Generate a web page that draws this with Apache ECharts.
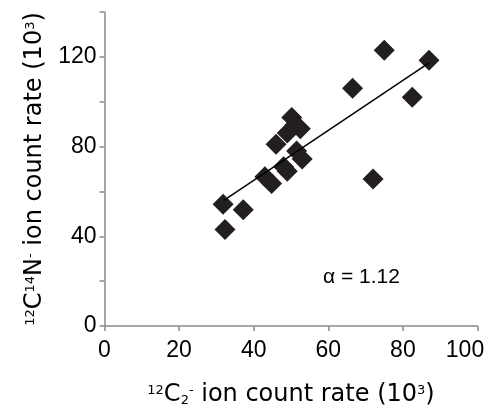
<!DOCTYPE html>
<html>
<head>
<meta charset="utf-8">
<script src="https://cdn.jsdelivr.net/npm/echarts@6/dist/echarts.min.js"></script>
<style>html,body{margin:0;padding:0;background:#fff;}#c{width:494px;height:420px;}</style>
</head>
<body>
<div id="c"></div>
<script>
// Data
var c2Rate = [75, 87, 66.5, 82.5, 50.2, 52.5, 49, 51, 46, 51.5, 53, 49, 48, 43, 44.8, 72, 31.8, 37.2, 32.3];
var cnRate = [123, 118.5, 106, 102, 93, 88, 86, 89.5, 81, 78, 74.5, 69, 71, 66.5, 63.5, 65.5, 54.3, 51.8, 43];
var trendX = [32, 87];
var trendY = [56, 117.3];
var xTicks = [0, 20, 40, 60, 80, 100];
var yTicks = [0, 40, 80, 120];
var alphaLabel = 'α = 1.12';

var points = c2Rate.map(function (x, i) { return [x, cnRate[i]]; });
var trend = trendX.map(function (x, i) { return [x, trendY[i]]; });

var TICKFONT = '"Liberation Sans", Arial, sans-serif';
var NAMEFONT = '"DejaVu Sans", sans-serif';
var richName = {
  n: { fontSize: 24, fontFamily: NAMEFONT, color: '#000', lineHeight: 26, verticalAlign: 'middle' },
  sup: { fontSize: 13, fontFamily: NAMEFONT, color: '#000', lineHeight: 13, verticalAlign: 'middle', padding: [0, 0, 9, 0] },
  sub: { fontSize: 13, fontFamily: NAMEFONT, color: '#000', lineHeight: 13, verticalAlign: 'middle', padding: [12, 0, 0, 0] }
};

var chart = echarts.init(document.getElementById('c'), null, { renderer: 'canvas' });
chart.setOption({
  animation: false,
  backgroundColor: '#fff',
  grid: { left: 104.5, right: 16.5, top: 12, bottom: 94 },
  xAxis: {
    type: 'value', min: 0, max: 100, interval: 20,
    axisLine: { show: true, lineStyle: { color: '#8a8a8a', width: 1.5 } },
    axisTick: { show: true, length: 5, lineStyle: { color: '#8a8a8a', width: 1.5 } },
    splitLine: { show: false },
    axisLabel: {
      margin: 13, color: '#000', fontSize: 23, fontFamily: TICKFONT,
      formatter: function (v) {
        if (xTicks.indexOf(v) < 0) return '';
        return v === 100 ? '{last|' + v + '}' : String(v);
      },
      rich: { last: { fontSize: 23, fontFamily: TICKFONT, color: '#000', padding: [0, 25, 0, 0] } }
    },
    name: '{sup|12}{n|C}{sub|2}{sup|-}{n| ion count rate (10}{sup|3}{n|)}',
    nameLocation: 'middle', nameGap: 56,
    nameTextStyle: { rich: richName }
  },
  yAxis: {
    type: 'value', min: 0, max: 140, interval: 20,
    axisLine: { show: true, lineStyle: { color: '#8a8a8a', width: 1.5 } },
    axisTick: { show: true, length: 5, lineStyle: { color: '#8a8a8a', width: 1.5 } },
    splitLine: { show: false },
    axisLabel: {
      margin: 8, color: '#000', fontSize: 23, fontFamily: TICKFONT,
      formatter: function (v) { return yTicks.indexOf(v) >= 0 ? String(v) : ''; }
    },
    name: '{sup|12}{n|C}{sup|14}{n|N}{sup|-}{n| ion count rate (10}{sup|3}{n|)}',
    nameLocation: 'middle', nameGap: 45, nameRotate: 90,
    nameTextStyle: { rich: richName }
  },
  series: [
    {
      type: 'scatter', data: points, symbol: 'diamond', symbolSize: 21,
      itemStyle: { color: '#231f20', opacity: 1 }, z: 2
    },
    {
      type: 'line', data: trend, symbol: 'none', z: 3,
      lineStyle: { color: '#000', width: 1.5 }
    }
  ],
  graphic: [
    {
      type: 'text', left: 323, top: 267,
      style: { text: alphaLabel, fontSize: 21, fontFamily: TICKFONT, fill: '#000' }
    }
  ]
});
</script>
</body>
</html>
